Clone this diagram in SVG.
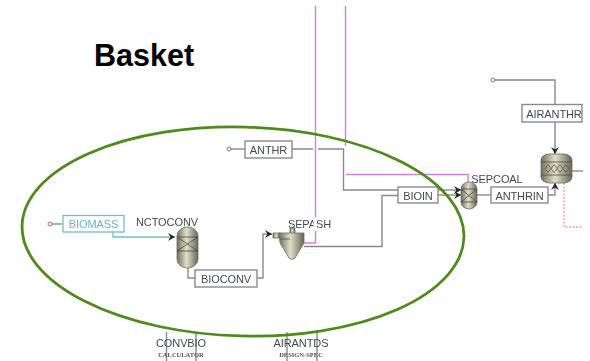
<svg xmlns="http://www.w3.org/2000/svg" width="590" height="361" viewBox="0 0 590 361">
<style>
.t{font-family:"Liberation Sans",Arial,sans-serif;font-size:11px;letter-spacing:-.1px;fill:#444a55;text-anchor:middle}
.s{font-family:"Liberation Serif","Times New Roman",serif;font-size:6.5px;font-weight:bold;fill:#555;text-anchor:middle}
.b{fill:#fff;stroke:#8a8a8a;stroke-width:1.4}
.w{fill:none;stroke:#8a8a8a;stroke-width:1.4}
.p{fill:none;stroke:#d27fdc;stroke-width:1.400}
.v{fill:url(#metal);stroke:#6d6d60;stroke-width:.8}
.x{fill:none;stroke:#4a4a42;stroke-width:.8}
.soft{filter:url(#soft)}
</style>
<defs>
<linearGradient id="metal"><stop offset="0" stop-color="#6f6f5e"/><stop offset=".45" stop-color="#e0e0c8"/><stop offset="1" stop-color="#66665a"/></linearGradient>
<filter id="soft" x="-5%" y="-5%" width="110%" height="110%"><feGaussianBlur stdDeviation=".45"/></filter>
<marker id="arr" markerWidth="9" markerHeight="9" refX="7" refY="4" orient="auto" markerUnits="userSpaceOnUse"><path d="M0 0L7 4L0 8L2.500 4Z" fill="#222"/></marker>
</defs>
<rect width="590" height="361" fill="#fff"/>
<g id="connectors" class="soft">
<path class="p" d="M345.500 6V146"/>
<path class="p" d="M346 174.500H468V182"/>
<path d="M564 183V227H583" fill="none" stroke="#ee9a9a" stroke-width="1.300" stroke-dasharray="2 1.500"/>
<path class="w" d="M50 224H62"/>
<path d="M113 232V237H175" fill="none" stroke="#6fc0c4" stroke-width="1.300" marker-end="url(#arr)"/>
<path class="w" d="M188 268V278H195"/>
<path class="w" d="M257 278H263V234H272" marker-end="url(#arr)"/>
<path class="w" d="M304 246.500H382V195.500H398"/>
<path class="w" d="M229 149H245"/>
<path class="w" d="M292 149H313M318 149H343.500V190H398"/>
<path class="w" d="M438 190H461" marker-end="url(#arr)"/>
<path class="w" d="M438 195H461" marker-end="url(#arr)"/>
<path class="w" d="M477 195H491"/>
<path class="w" d="M548 195H555V183" marker-end="url(#arr)"/>
<path class="w" d="M572 171H583"/>
<path class="w" d="M493 80H555V154" marker-end="url(#arr)"/>
<circle cx="50" cy="224" r="2" fill="#fff" stroke="#777"/>
<circle cx="229" cy="149" r="2" fill="#fff" stroke="#777"/>
<circle cx="493" cy="80" r="2" fill="#fff" stroke="#777"/>
</g>
<g id="biomass" class="soft"><rect x="63" y="215.500" width="61" height="16.500" fill="#fff" stroke="#6fc0c4" stroke-width="1.300"/><text class="t" x="93.500" y="228" style="fill:#5fb8bc">BIOMASS</text></g>
<g id="nctoconv" class="soft"><rect class="v" x="177" y="227" width="21" height="41" rx="10" ry="9"/><path class="x" d="M177 237H198M177 251H198M177 237L198 251M198 237L177 251"/><text class="t" x="167" y="226">NCTOCONV</text></g>
<g id="bioconv" class="soft"><rect class="b" x="195" y="270" width="62" height="17"/><text class="t" x="226" y="282.500">BIOCONV</text></g>
<g id="sepash" class="soft"><rect class="v" x="290" y="228" width="5" height="6"/><rect class="v" x="273" y="233" width="7" height="5"/><path class="v" d="M279 233H304V243L295 258Q292 261 289 258L280 243Z"/><path class="x" d="M280 239H290"/><text class="t" x="309.500" y="228">SEPASH</text></g>
<g id="pink-over" class="soft"><path d="M315.500 217V231" fill="none" stroke="#fff" stroke-width="4"/><path class="p" d="M315.500 6V217M315.500 231V243H304"/></g>
<g id="anthr" class="soft"><rect class="b" x="245" y="141" width="47" height="17"/><text class="t" x="268.500" y="153.500">ANTHR</text></g>
<g id="bioin" class="soft"><rect class="b" x="398" y="187" width="40" height="16"/><text class="t" x="418" y="199.500">BIOIN</text></g>
<g id="sepcoal" class="soft"><rect class="v" x="461" y="182" width="16" height="27" rx="8" ry="7"/><path class="x" d="M461 189H477M461 202H477M461 189L477 202M477 189L461 202"/><text class="t" x="497" y="183">SEPCOAL</text></g>
<g id="anthrin" class="soft"><rect class="b" x="491" y="187" width="57" height="16"/><text class="t" x="519.500" y="199.500">ANTHRIN</text></g>
<g id="reactor" class="soft"><rect class="v" x="541" y="154" width="31" height="29" rx="8" ry="6"/><path class="x" d="M541 162H572M541 175H572"/><path d="M545 168.500l3-4 3 4-3 4zM551 168.500l3-4 3 4-3 4zM557 168.500l3-4 3 4-3 4zM563 168.500l3-4 3 4-3 4z" fill="none" stroke="#4a4a42" stroke-width=".7"/></g>
<g id="airanthr" class="soft"><rect class="b" x="522" y="104.500" width="60" height="17.500"/><text class="t" x="554" y="117.500">AIRANTHR</text></g>
<g id="convbio" class="soft"><path class="w" d="M166.500 332V361M196 332V361"/><text class="t" x="181" y="347">CONVBIO</text><text class="s" x="181" y="356.500">CALCULATOR</text></g>
<g id="airantds" class="soft"><path class="w" d="M287 332V361M317 332V361"/><text class="t" x="301" y="347">AIRANTDS</text><text class="s" x="301" y="356.500">DESIGN-SPEC</text></g>
<ellipse id="basket-outline" cx="243" cy="231.500" rx="221" ry="104.500" transform="rotate(1.500 243 231.500)" fill="none" stroke="#4f8a1c" stroke-width="2.800"/>
<text id="title" x="94" y="66" font-family="Liberation Sans,Arial,sans-serif" font-size="30.500" font-weight="bold" fill="#000">Basket</text>
</svg>
